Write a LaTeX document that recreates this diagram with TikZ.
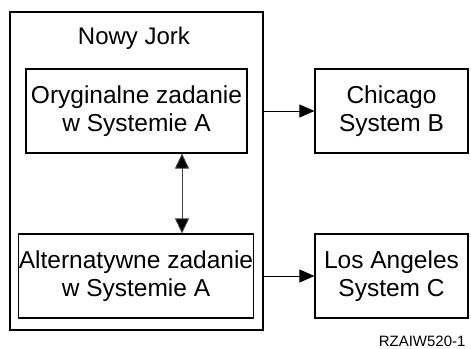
\documentclass[tikz,border=0pt]{standalone}
\usepackage{fontspec}
\setmainfont{Liberation Sans}
\usetikzlibrary{arrows.meta}
\begin{document}
\begin{tikzpicture}[x=1pt,y=-1pt,
  box/.style={draw, line width=1.2pt, rectangle, minimum height=84pt, inner sep=0pt, align=center,
    font=\fontsize{24.5}{27.5}\selectfont},
  conn/.style={line width=0.9pt, -{Triangle[length=15pt,width=13pt]}},
  dconn/.style={line width=0.9pt, draw=black!75, {Triangle[length=15pt,width=14pt,fill=black]}-{Triangle[length=15pt,width=14pt,fill=black]}}]
\useasboundingbox (0,0) rectangle (471,348);
\node[draw, line width=2.2pt, minimum width=253pt, minimum height=318pt, inner sep=0pt] (outer) at (136.5,171) {};
\node[font=\fontsize{24}{27}\selectfont] (title) at (134,38) {Nowy Jork};
\node[box, minimum width=221pt] (orig) at (136.5,111) {Oryginalne zadanie\\w Systemie A};
\node[box, minimum width=234pt] (alt) at (136,276) {Alternatywne zadanie\\w Systemie A};
\node[box, minimum width=153pt] (chi) at (391.5,111) {Chicago\\System B};
\node[box, minimum width=153pt] (la) at (391.5,276) {Los Angeles\\System C};
\node[font=\fontsize{15}{18}\selectfont, anchor=east] (code) at (469,341) {RZAIW520-1};
\coordinate (vx) at (182,0);
\draw[conn] (chi.west -| outer.east) -- (chi.west);
\draw[conn] (la.west -| outer.east) -- (la.west);
\draw[dconn] (orig.south -| vx) -- (alt.north -| vx);
\end{tikzpicture}
\end{document}
